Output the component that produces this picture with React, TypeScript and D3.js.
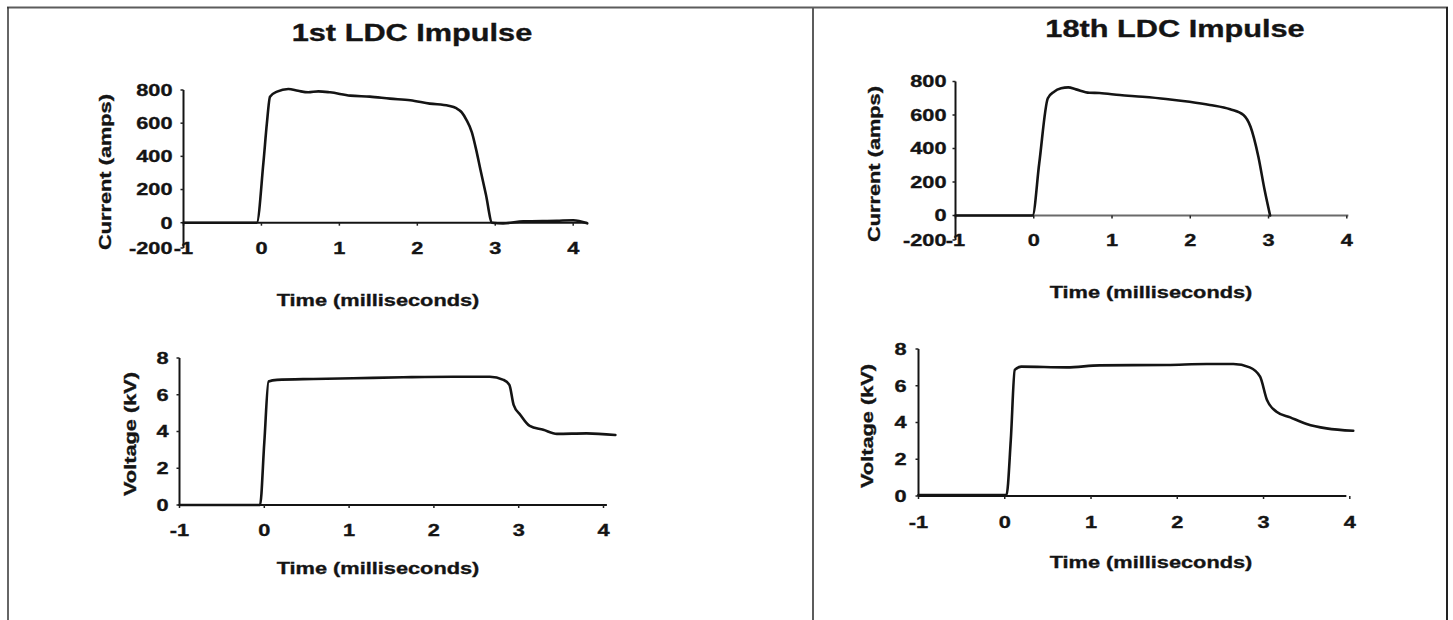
import React from "react";
import * as d3 from "d3";

const W = 1453;
const H = 620;
const FONT = "'Liberation Sans', Arial, Helvetica, sans-serif";
const STRETCH = 1.28;

// shared axis ticks
const timeTicks = [-1, 0, 1, 2, 3, 4];
const ampTicks = [-200, 0, 200, 400, 600, 800];
const kvTicks = [0, 2, 4, 6, 8];

// 1st LDC impulse - current (amps) vs time (ms)
const cur1Time = [-1, -0.06, 0.025, 0.07, 0.11, 0.2, 0.345, 0.47, 0.6, 0.73, 0.88, 1.14, 1.39, 1.65, 1.91, 2.16, 2.4, 2.5, 2.57, 2.63, 2.7, 2.76, 2.81, 2.88, 2.96, 3.1, 3.36, 3.79, 4.0, 4.18];
const cur1Amps = [0, 0, 360, 600, 760, 790, 806, 795, 786, 792, 786, 766, 760, 748, 738, 718, 705, 690, 665, 620, 545, 430, 319, 170, 0, -5, 8, 12, 15, -5];

// 1st LDC impulse - voltage (kV)
const volt1Time = [-1, -0.05, 0, 0.05, 0.15, 0.58, 1.05, 1.64, 2.23, 2.66, 2.82, 2.89, 2.94, 3.02, 3.13, 3.29, 3.45, 3.8, 4.14];
const volt1Kv = [0, 0, 3.4, 6.72, 6.81, 6.86, 6.9, 6.95, 6.98, 6.98, 6.81, 6.54, 5.45, 4.9, 4.3, 4.09, 3.87, 3.9, 3.81];

// 18th LDC impulse - current (amps)
const cur18Time = [-1, -0.015, 0.07, 0.18, 0.26, 0.35, 0.44, 0.54, 0.71, 0.84, 1.1, 1.39, 1.69, 1.99, 2.25, 2.51, 2.68, 2.77, 2.87, 2.95, 3.02];
const cur18Amps = [0, 0, 312, 700, 739, 759, 765, 753, 733, 731, 719, 709, 696, 679, 660, 634, 600, 530, 351, 152, 0];

// 18th LDC impulse - voltage (kV)
const volt18Time = [-1, 0.02, 0.07, 0.116, 0.19, 0.72, 1.1, 1.88, 2.34, 2.65, 2.84, 2.96, 3.04, 3.15, 3.31, 3.5, 3.73, 4.04];
const volt18Kv = [0.05, 0.05, 3.05, 6.86, 7.04, 7.0, 7.11, 7.13, 7.18, 7.18, 7.0, 6.49, 5.22, 4.59, 4.28, 3.92, 3.68, 3.55];

function Label({ x, y, anchor = "middle", rotate = 0, size = 17, children }: any) {
  return (
    <text
      transform={`translate(${x},${y}) rotate(${rotate}) scale(${STRETCH},1)`}
      textAnchor={anchor}
      dy="0.35em"
      fontSize={size}
      fontWeight="bold"
      fontFamily={FONT}
      fill="#141414"
      stroke="#141414"
      strokeWidth={0.35}
    >
      {children}
    </text>
  );
}

function Plot(props: any) {
  const { t, v, yTicks, yDomain, yRange, xRange, xEnd, tickRowY, xLabel, yLabel, yLabelPos, gap, xAxisColor } = props;
  const x = d3.scaleLinear().domain([-1, 4]).range(xRange);
  const y = d3.scaleLinear().domain(yDomain).range(yRange);
  const pts: [number, number][] = t.map((d: number, i: number) => [d, v[i]]);
  const path = d3
    .line<[number, number]>()
    .x((d) => x(d[0]))
    .y((d) => y(d[1]))
    .curve(d3.curveMonotoneX)(pts);
  const x0 = x(-1);
  const yMin = d3.min(yDomain as number[])!;
  const yMax = d3.max(yDomain as number[])!;

  return (
    <g>
      {/* x axis at zero */}
      <line x1={x0} x2={x(xEnd)} y1={y(0)} y2={y(0)} stroke={xAxisColor} strokeWidth={2} />
      {timeTicks.map((d) => (
        <line key={"xt" + d} x1={x(d)} x2={x(d)} y1={y(0)} y2={y(0) + 3} stroke="#222" strokeWidth={1.5} />
      ))}
      {/* y axis */}
      <line x1={x0} x2={x0} y1={y(yMax)} y2={y(yMin)} stroke="#141414" strokeWidth={2} />
      {yTicks.map((d: number) => (
        <line key={"yt" + d} x1={x0 - 3} x2={x0} y1={y(d)} y2={y(d)} stroke="#222" strokeWidth={1.5} />
      ))}
      <path d={path || ""} fill="none" stroke="#141414" strokeWidth={2.6} strokeLinejoin="round" strokeLinecap="round" />
      {yTicks.map((d: number) => (
        <Label key={"yl" + d} x={x0 - gap} y={y(d)} anchor="end">
          {d}
        </Label>
      ))}
      {timeTicks.map((d) => (
        <Label key={"xl" + d} x={x(d)} y={tickRowY}>
          {d}
        </Label>
      ))}
      <Label x={xLabel[0]} y={xLabel[1]}>
        Time (milliseconds)
      </Label>
      <Label x={yLabelPos[0]} y={yLabelPos[1]} rotate={-90}>
        {yLabel}
      </Label>
    </g>
  );
}

export default function App() {
  return (
    <svg
      width={W}
      height={H}
      viewBox={`0 0 ${W} ${H}`}
      style={{ position: "absolute", left: 0, top: 0, background: "#fff" }}
    >
      <rect x={0} y={0} width={W} height={H} fill="#fff" />
      {/* frame */}
      <line x1={7} x2={1448} y1={7.5} y2={7.5} stroke="#5c5c5c" strokeWidth={2} />
      <line x1={8} x2={8} y1={7} y2={H} stroke="#333" strokeWidth={1.5} />
      <line x1={813} x2={813} y1={7} y2={H} stroke="#5c5c5c" strokeWidth={2} />
      <line x1={1447} x2={1447} y1={7} y2={H} stroke="#222" strokeWidth={2} />

      <Label x={412} y={33} size={24}>
        1st LDC Impulse
      </Label>
      <Label x={1175} y={29} size={24}>
        18th LDC Impulse
      </Label>

      <Plot
        t={cur1Time}
        v={cur1Amps}
        yTicks={ampTicks}
        yDomain={[-200, 0, 800]}
        yRange={[248, 222.7, 90]}
        xRange={[183.5, 573.2]}
        xEnd={4.18}
        tickRowY={248}
        xLabel={[378, 300]}
        yLabel="Current (amps)"
        yLabelPos={[105, 172]}
        gap={11}
        xAxisColor="#141414"
      />
      <Plot
        t={volt1Time}
        v={volt1Kv}
        yTicks={kvTicks}
        yDomain={[0, 8]}
        yRange={[505, 358]}
        xRange={[179.5, 603.5]}
        xEnd={4.04}
        tickRowY={530}
        xLabel={[378, 568]}
        yLabel="Voltage (kV)"
        yLabelPos={[130, 434]}
        gap={11}
        xAxisColor="#141414"
      />
      <Plot
        t={cur18Time}
        v={cur18Amps}
        yTicks={ampTicks}
        yDomain={[-200, 0, 800]}
        yRange={[240, 215.5, 81.5]}
        xRange={[955.5, 1346.8]}
        xEnd={4.02}
        tickRowY={240}
        xLabel={[1151, 292]}
        yLabel="Current (amps)"
        yLabelPos={[874, 164]}
        gap={9}
        xAxisColor="#6a6a6a"
      />
      <Plot
        t={volt18Time}
        v={volt18Kv}
        yTicks={kvTicks}
        yDomain={[0, 8]}
        yRange={[496, 349]}
        xRange={[918.5, 1349.8]}
        xEnd={3.96}
        tickRowY={522}
        xLabel={[1151, 562]}
        yLabel="Voltage (kV)"
        yLabelPos={[867, 426]}
        gap={12}
        xAxisColor="#141414"
      />
    </svg>
  );
}
